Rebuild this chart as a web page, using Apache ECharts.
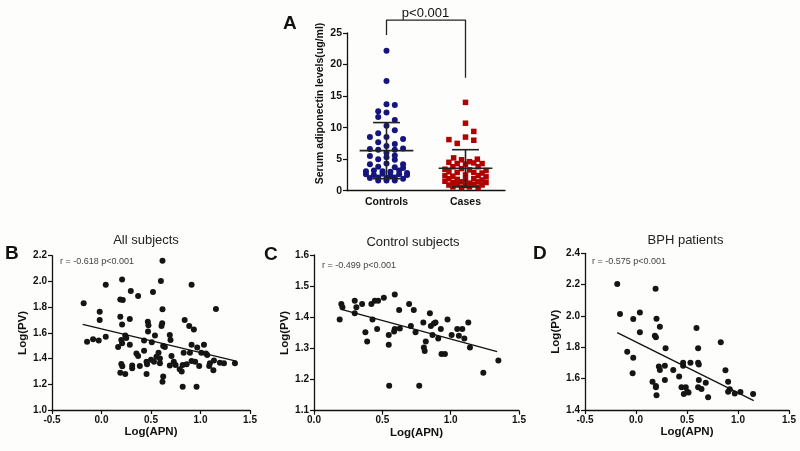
<!DOCTYPE html>
<html><head><meta charset="utf-8">
<script src="https://cdn.jsdelivr.net/npm/echarts@6/dist/echarts.min.js"></script>
<style>html,body{margin:0;padding:0;background:#fdfdfb}#c{width:800px;height:451px}</style>
</head><body><div id="c"></div>
<script>
// ---------- Panel A data ----------
const groupNames = ['Controls', 'Cases'];
// [horizontal jitter offset, serum adiponectin ug/ml]
const controlsPts = [[0,22.2],[0,17.4],[0,13.7],[0.105,13.6],[-0.105,12.6],[0,12.4],[-0.105,11.7],[0.105,11.2],[0,10.3],[0.105,9.6],[-0.105,9.1],[-0.21,8.5],[0,8.5],[0.21,8.2],[-0.105,7.7],[0.105,7.4],[0,7.1],[-0.21,6.6],[-0.105,6.5],[0.105,6.5],[0.21,6.7],[0,6.0],[-0.21,5.5],[0.105,5.6],[0,5.3],[-0.105,5.0],[0.105,4.9],[-0.21,4.2],[0,4.3],[0.21,4.2],[-0.105,3.8],[0.105,3.7],[0.21,3.6],[-0.26,3.1],[-0.16,3.2],[-0.05,3.1],[0.05,3.0],[0.16,3.2],[0.26,2.8],[-0.26,2.6],[-0.16,2.5],[-0.05,2.7],[0.05,2.4],[0.16,2.6],[0.26,2.5],[-0.21,2.0],[-0.105,2.1],[0,2.0],[0.105,2.1],[0.21,1.9],[-0.105,1.6],[0,1.6],[0.105,1.6]];
const casesPts = [[0,14.0],[0,10.7],[0.105,9.4],[-0.21,8.1],[0,8.5],[0.105,8.0],[-0.105,7.5],[-0.15,5.2],[0.15,5.0],[-0.05,4.9],[0.05,4.6],[-0.21,4.5],[-0.105,4.3],[0,4.2],[0.105,4.4],[0.21,4.3],[-0.16,3.8],[0.16,3.8],[-0.26,3.4],[-0.05,3.5],[0.05,3.3],[0.26,3.2],[-0.21,3.0],[-0.105,2.9],[0.105,2.9],[0.21,2.8],[-0.26,2.4],[-0.16,2.3],[0,2.5],[0.16,2.4],[0.26,2.2],[-0.21,1.9],[-0.105,1.8],[0,1.7],[0.105,1.9],[0.21,1.7],[-0.26,1.5],[-0.16,1.3],[-0.05,1.4],[0.05,1.2],[0.16,1.4],[0.26,1.3],[-0.21,0.9],[-0.105,1.0],[0,0.8],[0.105,1.0],[0.21,0.9],[-0.16,0.6],[-0.05,0.5],[0.05,0.6],[0.16,0.5]];
const groupMeans = [6.35, 3.55];
const groupSDs = [4.45, 2.95];
const bracketLeft = 24.7, bracketTop = 27.05, bracketRight = 17.9;
const pText = 'p<0.001';

// ---------- Panels B, C, D data: [Log(APN), Log(PV)] ----------
const allSubjects = [[-0.18,1.83],[-0.146,1.53],[-0.085,1.55],[-0.028,1.54],[-0.018,1.765],[-0.018,1.70],[0.043,1.975],[0.043,1.57],[0.208,2.015],[0.19,1.86],[0.215,1.855],[0.19,1.725],[0.208,1.665],[0.168,1.49],[0.208,1.52],[0.2,1.545],[0.24,1.58],[0.25,1.56],[0.2,1.357],[0.21,1.34],[0.19,1.29],[0.24,1.28],[0.296,1.925],[0.286,1.707],[0.286,1.508],[0.31,1.347],[0.31,1.325],[0.37,1.886],[0.353,1.44],[0.37,1.42],[0.387,1.342],[0.43,1.54],[0.43,1.46],[0.455,1.28],[0.468,1.687],[0.474,1.66],[0.47,1.61],[0.455,1.376],[0.46,1.355],[0.508,1.526],[0.52,1.917],[0.54,1.58],[0.555,1.415],[0.576,1.445],[0.59,1.40],[0.5,1.39],[0.53,1.376],[0.616,2.16],[0.6,2.003],[0.616,1.783],[0.606,1.653],[0.613,1.674],[0.59,1.363],[0.623,1.497],[0.64,1.49],[0.623,1.26],[0.616,1.22],[0.69,1.347],[0.69,1.583],[0.697,1.544],[0.707,1.42],[0.73,1.376],[0.748,1.35],[0.79,1.316],[0.81,1.3],[0.82,1.35],[0.82,1.181],[0.84,1.70],[0.83,1.445],[0.86,1.355],[0.886,1.653],[0.893,1.445],[0.91,1.508],[0.91,1.381],[0.91,1.975],[0.933,1.627],[0.946,1.376],[0.96,1.181],[0.967,1.487],[0.987,1.342],[1.008,1.445],[1.035,1.508],[1.055,1.44],[1.068,1.427],[1.088,1.342],[1.095,1.363],[1.13,1.31],[1.156,1.785],[1.136,1.384],[1.237,1.363],[1.348,1.363],[1.196,1.368]];
const allFit = [[-0.19,1.665],[1.36,1.38]];
const controlSubjects = [[0.188,1.393],[0.2,1.443],[0.208,1.432],[0.298,1.453],[0.298,1.413],[0.31,1.432],[0.352,1.443],[0.376,1.352],[0.389,1.322],[0.42,1.443],[0.428,1.393],[0.445,1.453],[0.462,1.362],[0.469,1.453],[0.511,1.463],[0.547,1.343],[0.547,1.312],[0.55,1.18],[0.591,1.473],[0.591,1.362],[0.586,1.354],[0.623,1.423],[0.628,1.364],[0.696,1.443],[0.709,1.372],[0.73,1.423],[0.743,1.352],[0.77,1.18],[0.8,1.383],[0.804,1.303],[0.81,1.292],[0.818,1.322],[0.848,1.413],[0.855,1.372],[0.867,1.343],[0.877,1.38],[0.889,1.383],[0.909,1.332],[0.928,1.362],[0.933,1.282],[0.958,1.282],[0.977,1.393],[1.007,1.343],[1.048,1.362],[1.06,1.341],[1.085,1.362],[1.1,1.332],[1.129,1.383],[1.141,1.303],[1.239,1.222],[1.349,1.261]];
const controlFit = [[0.2,1.425],[1.34,1.29]];
const bphPatients = [[-0.184,2.204],[-0.157,2.013],[-0.086,1.772],[-0.027,1.981],[-0.027,1.734],[-0.033,1.634],[0.038,1.896],[0.038,2.023],[0.192,2.174],[0.201,1.983],[0.185,1.874],[0.195,1.864],[0.234,1.932],[0.162,1.581],[0.195,1.553],[0.195,1.545],[0.201,1.494],[0.224,1.677],[0.234,1.655],[0.29,1.794],[0.283,1.683],[0.283,1.591],[0.365,1.655],[0.423,1.613],[0.446,1.545],[0.462,1.702],[0.462,1.683],[0.469,1.502],[0.488,1.545],[0.502,1.517],[0.515,1.511],[0.534,1.702],[0.593,1.923],[0.609,1.794],[0.609,1.702],[0.616,1.691],[0.616,1.591],[0.609,1.545],[0.642,1.534],[0.684,1.574],[0.707,1.481],[0.831,1.832],[0.877,1.653],[0.903,1.581],[0.903,1.517],[0.919,1.532],[0.968,1.506],[1.024,1.515],[1.148,1.502]];
const bphFit = [[-0.184,1.894],[1.154,1.46]];

const panelTitles = ['All subjects', 'Control subjects', 'BPH patients'];
const panelStats = ['r = -0.618 p<0.001', 'r = -0.499 p<0.001', 'r = -0.575 p<0.001'];
const panelLetters = ['A', 'B', 'C', 'D'];

// ---------- styles ----------
const FONT = '"Liberation Sans", Arial, sans-serif';
const axisLine = {show: true, onZero: false, lineStyle: {color: '#111', width: 1.3}};
const axisTick = {inside: false, length: 4, lineStyle: {color: '#111', width: 1.2}};
const tickLabel = (fmt, size) => ({color: '#111', fontWeight: 'bold', fontSize: size || 10, fontFamily: FONT, margin: 5, formatter: fmt});
const f1 = v => Number(v).toFixed(1);
const MEAN_HALF = 0.34, CAP_HALF = 0.17;

const chart = echarts.init(document.getElementById('c'));

function valAxis(gi, min, max, interval, name, gap) {
  return {
    type: 'value', gridIndex: gi, min, max, interval,
    axisLine, axisTick, splitLine: {show: false},
    axisLabel: tickLabel(f1),
    name, nameLocation: 'middle', nameGap: gap,
    nameTextStyle: {color: '#111', fontWeight: 'bold', fontSize: 11.5, fontFamily: FONT}
  };
}

const scatterStyle = {color: '#151515', opacity: 1};

const option = {
  backgroundColor: '#fdfdfb',
  animation: false,
  grid: [
    {left: 347, top: 33, width: 158, height: 157.7},
    {left: 52, top: 255.7, width: 198, height: 154.3},
    {left: 314, top: 255, width: 205, height: 155.7},
    {left: 585, top: 253.3, width: 204, height: 156.7}
  ],
  xAxis: [
    {type: 'category', gridIndex: 0, data: groupNames, boundaryGap: true,
     axisLine, axisTick: Object.assign({alignWithLabel: true}, axisTick),
     axisLabel: {color: '#111', fontWeight: 'bold', fontSize: 10.5, fontFamily: FONT, margin: 6}},
    {type: 'value', gridIndex: 0, min: 0.5, max: 2.5, show: false},
    valAxis(1, -0.5, 1.5, 0.5, 'Log(APN)', 14),
    valAxis(2, 0, 1.5, 0.5, 'Log(APN)', 14),
    valAxis(3, -0.5, 1.5, 0.5, 'Log(APN)', 14)
  ],
  yAxis: [
    {type: 'value', gridIndex: 0, min: 0, max: 25, interval: 5,
     axisLine, axisTick, splitLine: {show: false},
     axisLabel: tickLabel(null, 10.5)},
    valAxis(1, 1.0, 2.2, 0.2, 'Log(PV)', 21),
    valAxis(2, 1.1, 1.6, 0.1, 'Log(PV)', 21),
    valAxis(3, 1.4, 2.4, 0.2, 'Log(PV)', 21)
  ],
  series: [
    {type: 'scatter', xAxisIndex: 1, yAxisIndex: 0, symbol: 'circle', symbolSize: 6,
     itemStyle: {color: '#15157f', opacity: 1}, data: controlsPts.map(p => [1 + p[0], p[1]])},
    {type: 'scatter', xAxisIndex: 1, yAxisIndex: 0, symbol: 'rect', symbolSize: 5.5,
     itemStyle: {color: '#b00000', opacity: 1}, data: casesPts.map(p => [2 + p[0], p[1]])},
    {type: 'custom', xAxisIndex: 1, yAxisIndex: 0, z: 5,
     data: groupMeans.map((m, i) => [i + 1, m, groupSDs[i]]),
     encode: {x: 0, y: 1},
     renderItem: function (params, api) {
       const x = api.value(0), m = api.value(1), s = api.value(2);
       const c = api.coord([x, m]), up = api.coord([x, m + s]), lo = api.coord([x, m - s]);
       const mh = api.size([MEAN_HALF, 0])[0], ch = api.size([CAP_HALF, 0])[0];
       const st = {stroke: '#222', lineWidth: 1.6};
       return {type: 'group', children: [
         {type: 'line', shape: {x1: c[0] - mh, y1: c[1], x2: c[0] + mh, y2: c[1]}, style: st},
         {type: 'line', shape: {x1: up[0], y1: up[1], x2: lo[0], y2: lo[1]}, style: st},
         {type: 'line', shape: {x1: up[0] - ch, y1: up[1], x2: up[0] + ch, y2: up[1]}, style: st},
         {type: 'line', shape: {x1: lo[0] - ch, y1: lo[1], x2: lo[0] + ch, y2: lo[1]}, style: st}
       ]};
     }},
    {type: 'line', xAxisIndex: 1, yAxisIndex: 0, clip: false, symbol: 'none',
     lineStyle: {color: '#222', width: 1.3},
     data: [[1, bracketLeft], [1, bracketTop], [2, bracketTop], [2, bracketRight]]},

    {type: 'scatter', xAxisIndex: 2, yAxisIndex: 1, symbolSize: 6, itemStyle: scatterStyle, data: allSubjects},
    {type: 'line', xAxisIndex: 2, yAxisIndex: 1, symbol: 'none', lineStyle: {color: '#111', width: 1.3}, data: allFit},
    {type: 'scatter', xAxisIndex: 3, yAxisIndex: 2, symbolSize: 6, itemStyle: scatterStyle, data: controlSubjects},
    {type: 'line', xAxisIndex: 3, yAxisIndex: 2, symbol: 'none', lineStyle: {color: '#111', width: 1.3}, data: controlFit},
    {type: 'scatter', xAxisIndex: 4, yAxisIndex: 3, symbolSize: 6, itemStyle: scatterStyle, data: bphPatients},
    {type: 'line', xAxisIndex: 4, yAxisIndex: 3, symbol: 'none', lineStyle: {color: '#111', width: 1.3}, data: bphFit}
  ],
  graphic: [
    {type: 'text', x: 320, y: 103.5, rotation: Math.PI / 2,
     style: {text: 'Serum adiponectin levels(ug/ml)', font: 'bold 10.5px ' + FONT, fill: '#111', align: 'center', verticalAlign: 'middle'}},
    {type: 'text', x: 425.5, y: 13, style: {text: pText, font: '13px ' + FONT, fill: '#111', align: 'center', verticalAlign: 'middle'}},
    {type: 'text', x: 283, y: 24, style: {text: panelLetters[0], font: 'bold 19px ' + FONT, fill: '#111', align: 'left', verticalAlign: 'middle'}},
    {type: 'text', x: 5, y: 254, style: {text: panelLetters[1], font: 'bold 19px ' + FONT, fill: '#111', align: 'left', verticalAlign: 'middle'}},
    {type: 'text', x: 264, y: 255, style: {text: panelLetters[2], font: 'bold 19px ' + FONT, fill: '#111', align: 'left', verticalAlign: 'middle'}},
    {type: 'text', x: 533, y: 254, style: {text: panelLetters[3], font: 'bold 19px ' + FONT, fill: '#111', align: 'left', verticalAlign: 'middle'}},
    {type: 'text', x: 146, y: 240, style: {text: panelTitles[0], font: '13px ' + FONT, fill: '#222', align: 'center', verticalAlign: 'middle'}},
    {type: 'text', x: 413, y: 242, style: {text: panelTitles[1], font: '13px ' + FONT, fill: '#222', align: 'center', verticalAlign: 'middle'}},
    {type: 'text', x: 685.5, y: 240, style: {text: panelTitles[2], font: '13px ' + FONT, fill: '#222', align: 'center', verticalAlign: 'middle'}},
    {type: 'text', x: 60, y: 262, style: {text: panelStats[0], font: '9px ' + FONT, fill: '#444', align: 'left', verticalAlign: 'middle'}},
    {type: 'text', x: 322, y: 266, style: {text: panelStats[1], font: '9px ' + FONT, fill: '#444', align: 'left', verticalAlign: 'middle'}},
    {type: 'text', x: 592, y: 262, style: {text: panelStats[2], font: '9px ' + FONT, fill: '#444', align: 'left', verticalAlign: 'middle'}}
  ]
};
chart.setOption(option);
</script></body></html>
